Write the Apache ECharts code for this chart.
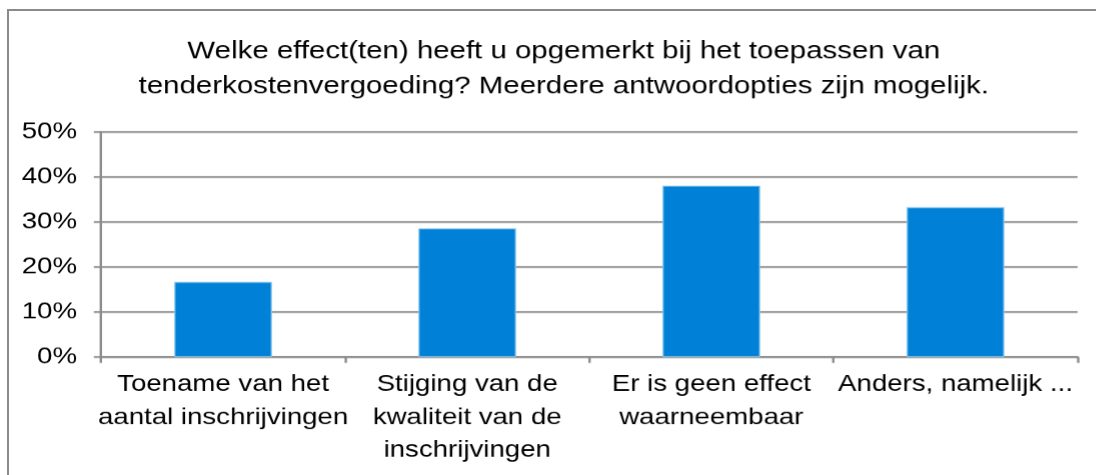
<!DOCTYPE html>
<html>
<head>
<meta charset="utf-8">
<script src="https://cdn.jsdelivr.net/npm/echarts@6/dist/echarts.min.js"></script>
<style>
html,body{margin:0;padding:0;background:#fff;}
#wrap{position:relative;width:1096px;height:475px;overflow:hidden;}
#chart{position:absolute;left:0;top:0;width:913px;height:475px;transform:scaleX(1.2);transform-origin:0 0;}
#frame{position:absolute;left:7px;top:9px;width:1200px;height:600px;border-left:2px solid #8a8a8a;border-top:2px solid #8a8a8a;pointer-events:none;}
</style>
</head>
<body>
<div id="wrap"><div id="chart"></div><div id="frame"></div></div>
<script>
const titleText = "Welke effect(ten) heeft u opgemerkt bij het toepassen van\ntenderkostenvergoeding? Meerdere antwoordopties zijn mogelijk.";
const categories = [
  "Toename van het\naantal inschrijvingen",
  "Stijging van de\nkwaliteit van de\ninschrijvingen",
  "Er is geen effect\nwaarneembaar",
  "Anders, namelijk ..."
];
const values = [16.7, 28.6, 38.1, 33.3];
const yTicks = [0, 10, 20, 30, 40, 50];

const SX = 1.2;
const chart = echarts.init(document.getElementById('chart'), null, {renderer: 'canvas', devicePixelRatio: 1.2});
const font = '"Liberation Sans", Arial, sans-serif';
chart.setOption({
  animation: false,
  backgroundColor: '#ffffff',
  title: {
    text: titleText,
    left: 557.5 / SX, top: 29, textAlign: 'center',
    textStyle: {fontFamily: font, fontSize: 24.5, fontWeight: 'normal', color: '#000', lineHeight: 35}
  },
  grid: {left: 101 / SX, right: 19 / SX - 0.3, top: 132, bottom: 118, containLabel: false},
  xAxis: {
    type: 'category',
    data: categories,
    axisLine: {lineStyle: {color: '#8c8c8c', width: 2}},
    axisTick: {show: true, length: 6, alignWithLabel: false, lineStyle: {color: '#8c8c8c', width: 2}},
    axisLabel: {fontFamily: font, fontSize: 23, color: '#000', lineHeight: 33, margin: 11, interval: 0}
  },
  yAxis: {
    type: 'value',
    min: yTicks[0], max: yTicks[yTicks.length - 1], interval: 10,
    axisLine: {show: true, lineStyle: {color: '#8c8c8c', width: 2}},
    axisTick: {show: true, length: 6, lineStyle: {color: '#8c8c8c', width: 2}},
    splitLine: {lineStyle: {color: '#8c8c8c', width: 2}},
    axisLabel: {fontFamily: font, fontSize: 23, color: '#000', margin: 20, formatter: v => v + '%'}
  },
  series: [{
    type: 'bar',
    data: values,
    barWidth: '40%',
    itemStyle: {color: '#0080d6', borderColor: '#8cc8ee', borderWidth: 1}
  }]
});
</script>
</body>
</html>
